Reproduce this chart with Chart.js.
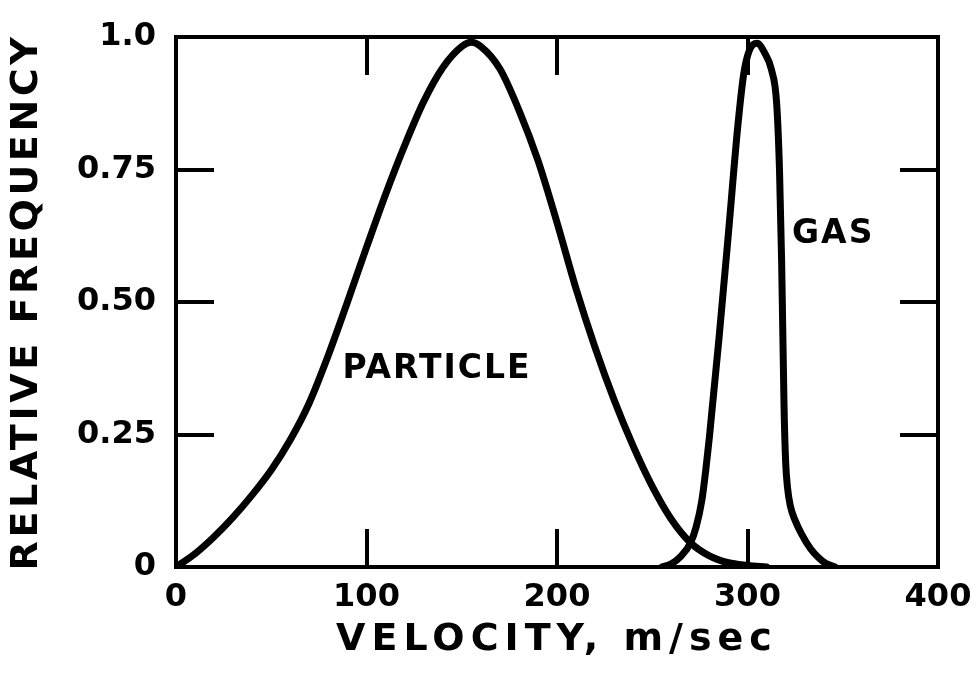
<!DOCTYPE html>
<html>
<head>
<meta charset="utf-8">
<script src="https://cdn.jsdelivr.net/npm/chart.js@4"></script>
<style>
  html, body { margin: 0; padding: 0; background: #fff; }
  #wrap { width: 978px; height: 677px; }
</style>
</head>
<body>
<div id="wrap"><canvas id="c" width="978" height="677"></canvas></div>
<script>
// ---- data ----
const particleV = [0, 10, 20, 30, 40, 50, 60, 70, 80, 90, 100, 110, 120, 130, 140, 150, 155, 160, 170, 180, 190, 200, 210, 220, 230, 240, 250, 260, 270, 280, 290, 300, 310];
const particleF = [0, 0.025, 0.057, 0.094, 0.136, 0.183, 0.24, 0.31, 0.4, 0.5, 0.603, 0.703, 0.795, 0.878, 0.942, 0.982, 0.99, 0.982, 0.94, 0.862, 0.767, 0.65, 0.525, 0.414, 0.315, 0.228, 0.152, 0.09, 0.046, 0.021, 0.008, 0.003, 0];

const gasV = [255, 260, 265, 270, 273, 276, 278, 280, 285, 290, 295, 298, 301, 305, 309, 312.6, 315.3, 316.8, 317.9, 319.2, 320, 321, 322.5, 325, 328.4, 333, 337.2, 341, 346];
const gasF = [0, 0.006, 0.02, 0.045, 0.075, 0.125, 0.18, 0.245, 0.43, 0.63, 0.835, 0.93, 0.975, 0.988, 0.97, 0.938, 0.875, 0.749, 0.579, 0.3, 0.2, 0.15, 0.115, 0.088, 0.062, 0.035, 0.018, 0.007, 0];

const xTickValues = [0, 100, 200, 300, 400];
const xTickLabels = ['0', '100', '200', '300', '400'];
const yTickValues = [0, 0.25, 0.5, 0.75, 1.0];
const yTickLabels = ['0', '0.25', '0.50', '0.75', '1.0'];

const seriesNames = ['PARTICLE', 'GAS'];
const labelV = [137, 345];
const labelF = [0.372, 0.628];

const xTitle = 'VELOCITY, m/sec';
const yTitle = 'RELATIVE FREQUENCY';

// ---- chart ----
const FONT = "'DejaVu Sans', sans-serif";
const TICK = -38;

function pts(xs, ys) { return xs.map((v, i) => ({ x: v, y: ys[i] })); }

const labelPlugin = {
  id: 'seriesLabels',
  beforeDraw(chart) {
    const spacing = { x: '6px', y: '3.6px' };
    Object.keys(spacing).forEach(id => {
      const s = chart.scales[id];
      if (s && !s._lsPatched) {
        const orig = s.drawTitle;
        s.drawTitle = function () {
          const ctx = this.ctx;
          ctx.save();
          try { ctx.letterSpacing = spacing[id]; } catch (e) {}
          orig.apply(this, arguments);
          ctx.restore();
        };
        s._lsPatched = true;
      }
    });
  },
  afterDatasetsDraw(chart) {
    const ctx = chart.ctx;
    const xs = chart.scales.x, ys = chart.scales.y;
    ctx.save();
    ctx.fillStyle = '#000';
    ctx.font = 'bold 33px ' + FONT;
    ctx.textAlign = 'center';
    ctx.textBaseline = 'middle';
    try { ctx.letterSpacing = '2px'; } catch (e) {}
    seriesNames.forEach((t, i) => {
      ctx.fillText(t, xs.getPixelForValue(labelV[i]), ys.getPixelForValue(labelF[i]));
    });
    ctx.restore();
  }
};

const gridOpts = {
  drawOnChartArea: false,
  drawTicks: true,
  tickLength: TICK,
  lineWidth: 4,
  color: '#000'
};
const borderOpts = { display: true, width: 4, color: '#000' };

function fixH(h) { return s => { s.height = h; s.paddingLeft = 0; s.paddingRight = 0; s.paddingTop = 0; s.paddingBottom = 0; }; }
function fixW(w) { return s => { s.width = w; s.paddingLeft = 0; s.paddingRight = 0; s.paddingTop = 0; s.paddingBottom = 0; }; }

new Chart(document.getElementById('c'), {
  type: 'line',
  data: {
    datasets: [
      { label: seriesNames[0], data: pts(particleV, particleF) },
      { label: seriesNames[1], data: pts(gasV, gasF) }
    ]
  },
  options: {
    responsive: false,
    animation: false,
    devicePixelRatio: 1,
    layout: { padding: 0 },
    elements: {
      point: { radius: 0 },
      line: { borderColor: '#000', borderWidth: 7, cubicInterpolationMode: 'monotone', fill: false, borderCapStyle: 'round', borderJoinStyle: 'round' }
    },
    plugins: { legend: { display: false }, tooltip: { enabled: false } },
    scales: {
      x: {
        type: 'linear', position: 'bottom', min: 0, max: 400,
        afterBuildTicks: s => { s.ticks = xTickValues.map(v => ({ value: v })); },
        afterFit: fixH(110),
        grid: gridOpts, border: borderOpts,
        ticks: {
          padding: 38 + 11, color: '#000', maxRotation: 0, autoSkip: false,
          font: { family: FONT, size: 32, weight: 'bold' },
          callback: (v, i) => xTickLabels[i]
        },
        title: { display: true, text: xTitle, color: '#000', font: { family: FONT, size: 38, weight: 'bold' }, padding: { top: 0, bottom: 14 } }
      },
      x2: {
        type: 'linear', position: 'top', min: 0, max: 400,
        afterBuildTicks: s => { s.ticks = xTickValues.map(v => ({ value: v })); },
        afterFit: fixH(37),
        grid: gridOpts, border: borderOpts,
        ticks: { display: false }
      },
      y: {
        type: 'linear', position: 'left', min: 0, max: 1,
        afterBuildTicks: s => { s.ticks = yTickValues.map(v => ({ value: v })); },
        afterFit: fixW(176),
        grid: gridOpts, border: borderOpts,
        ticks: {
          padding: 38 + 20, color: '#000', autoSkip: false,
          font: { family: FONT, size: 32, weight: 'bold' },
          callback: (v, i) => yTickLabels[i]
        },
        title: { display: true, text: yTitle, color: '#000', font: { family: FONT, size: 38, weight: 'bold' }, padding: { top: 4, bottom: 0 } }
      },
      y2: {
        type: 'linear', position: 'right', min: 0, max: 1,
        afterBuildTicks: s => { s.ticks = yTickValues.map(v => ({ value: v })); },
        afterFit: fixW(40),
        grid: gridOpts, border: borderOpts,
        ticks: { display: false }
      }
    }
  },
  plugins: [labelPlugin]
});
</script>
</body>
</html>
